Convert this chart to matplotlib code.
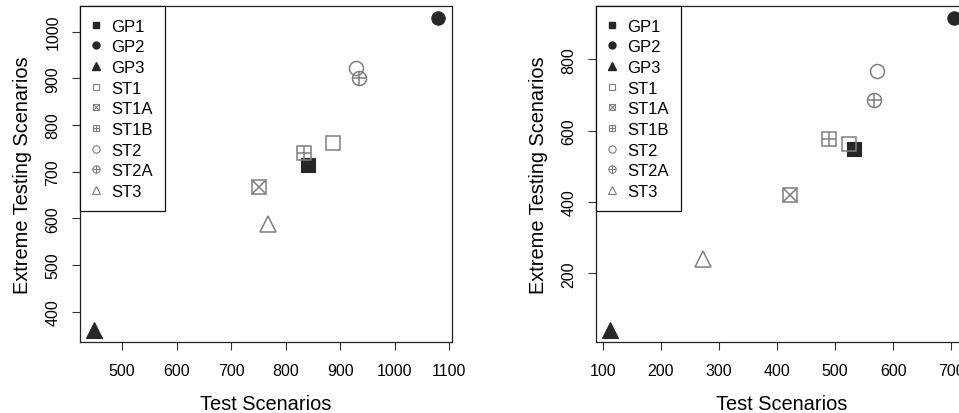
import matplotlib
matplotlib.use("Agg")
import matplotlib.pyplot as plt
from matplotlib.lines import Line2D

plt.rcParams['font.family'] = ['Liberation Sans', 'DejaVu Sans']

names = ["GP1", "GP2", "GP3", "ST1", "ST1A", "ST1B", "ST2", "ST2A", "ST3"]

# left panel
x_left = [841, 1080, 448, 887, 752, 834, 929, 934, 767]
y_left = [714, 1028, 362, 761, 667, 741, 921, 900, 589]

# right panel
x_right = [532, 705, 112, 523, 422, 490, 572, 567, 272]
y_right = [549, 914, 43, 562, 421, 576, 766, 685, 240]

xticks_left = [500, 600, 700, 800, 900, 1000, 1100]
yticks_left = [400, 500, 600, 700, 800, 900, 1000]
xticks_right = [100, 200, 300, 400, 500, 600, 700]
yticks_right = [200, 400, 600, 800]

dark = "#262626"
gray = "#7f7f7f"

# R pch 15,16,17,0,7,12,1,10,2 -> pieces (marker, filled, size scale)
styles = {
    "GP1": [("s", True, 1.0)],
    "GP2": [("o", True, 1.0)],
    "GP3": [("^", True, 1.25)],
    "ST1": [("s", False, 1.0)],
    "ST1A": [("s", False, 1.0), ("x", False, 1.0)],
    "ST1B": [("s", False, 1.0), ("+", False, 1.0)],
    "ST2": [("o", False, 1.05)],
    "ST2A": [("o", False, 1.05), ("+", False, 1.05)],
    "ST3": [("^", False, 1.25)],
}


def draw_panel(ax, xs, ys, xticks, yticks):
    for n, x, y in zip(names, xs, ys):
        for m, filled, k in styles[n]:
            if filled:
                ax.plot(x, y, m, ms=9.6 * k, color=dark, mec=dark, mew=0.8)
            else:
                ax.plot(x, y, m, ms=9.6 * k, mfc="none", mec=gray, mew=1.1)
    # R style 4% padding
    dx = (max(xs) - min(xs)) * 0.04
    dy = (max(ys) - min(ys)) * 0.04
    ax.set_xlim(min(xs) - dx, max(xs) + dx)
    ax.set_ylim(min(ys) - dy, max(ys) + dy)
    ax.set_xticks(xticks)
    ax.set_yticks(yticks)
    ax.tick_params(length=6, width=0.8, labelsize=11.5, pad=8, color="#333333")
    ax.tick_params(axis="x", pad=9)
    for lab in ax.get_yticklabels():
        lab.set_rotation(90)
        lab.set_va("center")
    for s in ax.spines.values():
        s.set_linewidth(0.9)
        s.set_color("#222222")
    ax.set_xlabel("Test Scenarios", fontsize=14.4, labelpad=12)
    ax.set_ylabel("Extreme Testing Scenarios", fontsize=14.4, labelpad=10)

    handles = []
    for n in names:
        parts = []
        for m, filled, k in styles[n]:
            if filled:
                parts.append(Line2D([], [], ls="none", marker=m, ms=5.0 * k,
                                    color=dark, mec=dark))
            else:
                parts.append(Line2D([], [], ls="none", marker=m, ms=5.0 * k,
                                    mfc="none", mec=gray, mew=0.8))
        handles.append(tuple(parts))
    leg = ax.legend(handles, names, loc="upper left", borderaxespad=0,
                    fancybox=False, framealpha=1, edgecolor="#111111",
                    fontsize=12, labelspacing=0.34, handlelength=0.4,
                    handletextpad=0.71, borderpad=0.75)
    leg.get_frame().set_linewidth(0.9)


fig = plt.figure(figsize=(9.59, 4.14), dpi=100)
ax1 = fig.add_axes([80 / 959, 71 / 414, 372 / 959, 336 / 414])
ax2 = fig.add_axes([596 / 959, 71 / 414, 372 / 959, 336 / 414])

draw_panel(ax1, x_left, y_left, xticks_left, yticks_left)
draw_panel(ax2, x_right, y_right, xticks_right, yticks_right)

plt.savefig("out.png", dpi=100)
